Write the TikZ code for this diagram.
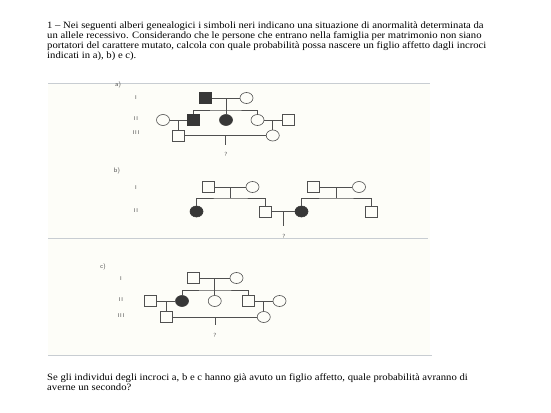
\documentclass[tikz,border=0pt]{standalone}
\usepackage{fontspec}
\setmainfont{Liberation Serif}
\newfontfamily\parafont[FakeStretch=1.1]{Liberation Serif}
\usetikzlibrary{shapes.geometric,calc}
\definecolor{ink}{RGB}{80,80,80}
\definecolor{fillk}{RGB}{55,55,55}
\definecolor{scanbg}{RGB}{253,253,248}
\definecolor{rule}{RGB}{200,205,210}
\tikzset{
  sq/.style={draw=ink,line width=0.6pt,rectangle,minimum width=12pt,minimum height=11pt,inner sep=0pt},
  ci/.style={draw=ink,line width=0.6pt,ellipse,minimum width=13pt,minimum height=11pt,inner sep=0pt},
  aff/.style={fill=fillk,draw=fillk},
  ln/.style={draw=ink,line width=0.6pt},
  gen/.style={font=\sffamily\fontsize{5.5}{5.5}\selectfont,text=ink,inner sep=0pt},
  lab/.style={font=\sffamily\fontsize{6.5}{6.5}\selectfont,text=ink,inner sep=0pt},
  qm/.style={font=\sffamily\fontsize{6}{6}\selectfont,text=ink,inner sep=0pt},
  para/.style={font=\parafont\fontsize{9.7}{8.7}\selectfont,align=left,anchor=north west,inner sep=0pt},
  scanrule/.style={draw=rule,line width=1pt}
}
\begin{document}
\begin{tikzpicture}[x=1pt,y=-1pt]
\useasboundingbox[fill=white] (0,0) rectangle (551,412);
\fill[scanbg] (48,83) rectangle (430,355);
\draw[scanrule] (48,83) -- (430,83);
\draw[scanrule] (48,238) -- (428,238);
\draw[scanrule] (48,355) -- (432,355);

\node[para] (t1) at (47,21.5) {1 – Nei seguenti alberi genealogici i simboli neri indicano una situazione di anormalità determinata da\\un allele recessivo. Considerando che le persone che entrano nella famiglia per matrimonio non siano\\portatori del carattere mutato, calcola con quale probabilità possa nascere un figlio affetto dagli incroci\\indicati in a), b) e c).};
\node[para] (t2) at (47,373.5) {Se gli individui degli incroci a, b e c hanno già avuto un figlio affetto, quale probabilità avranno di\\averne un secondo?};

% ---------- a ----------
\node[lab] (la) at (118,85) {a)};
\node[gen] (ga1) at (136,98) {I};
\node[gen] (ga2) at (136,119) {I\,I};
\node[gen] (ga3) at (136,133) {I\,I\,I};
\node[sq,aff] (aI1) at (205.5,98) {};
\node[ci] (aI2) at (246.5,98) {};
\node[ci] (aII1) at (163,120) {};
\node[sq,aff] (aII2) at (193,120) {};
\node[ci,aff] (aII3) at (226,120) {};
\node[ci] (aII4) at (257.5,120) {};
\node[sq] (aII5) at (288,120) {};
\node[sq] (aIII1) at (178,135.5) {};
\node[ci] (aIII2) at (272.75,135.5) {};
\coordinate (aIm) at ($(aI1)!0.5!(aI2)$);
\coordinate (aIs) at (226,110);
\draw[ln] (aI1) -- (aI2);
\draw[ln] (aIm) -- (aIs);
\draw[ln] (aII2.north) |- (aIs) -| (aII4.north);
\draw[ln] (aIs) -- (aII3.north);
\draw[ln] (aII1) -- (aII2);
\coordinate (aIIm1) at ($(aII1)!0.5!(aII2)$);
\draw[ln] (aIIm1) -- (aIII1.north);
\draw[ln] (aII4) -- (aII5);
\coordinate (aIIm2) at ($(aII4)!0.5!(aII5)$);
\draw[ln] (aIIm2) -- (aIII2.north);
\draw[ln] (aIII1) -- (aIII2);
\coordinate (aIIIm) at ($(aIII1)!0.5!(aIII2)$);
\coordinate (aIIId) at ($(aIIIm)+(0,9)$);
\draw[ln] (aIIIm) -- (aIIId);
\node[qm] (aq) at (226,154) {?};

% ---------- b ----------
\node[lab] (lb) at (117,171) {b)};
\node[gen] (gb1) at (136,188) {I};
\node[gen] (gb2) at (136,211) {I\,I};
\node[sq] (bI1) at (208.5,187) {};
\node[ci] (bI2) at (252.5,187) {};
\node[sq] (bI3) at (313.5,187) {};
\node[ci] (bI4) at (359,187) {};
\node[ci,aff] (bII1) at (196.5,211.5) {};
\node[sq] (bII2) at (265,211.5) {};
\node[ci,aff] (bII3) at (301.5,211.5) {};
\node[sq] (bII4) at (371,211.5) {};
\draw[ln] (bI1) -- (bI2);
\coordinate (bIm1) at ($(bI1)!0.5!(bI2)$);
\coordinate (bIs1) at ($(bIm1)+(0,11)$);
\draw[ln] (bIm1) -- (bIs1);
\draw[ln] (bII1.north) |- (bIs1) -| (bII2.north);
\draw[ln] (bI3) -- (bI4);
\coordinate (bIm2) at ($(bI3)!0.5!(bI4)$);
\coordinate (bIs2) at ($(bIm2)+(0,11)$);
\draw[ln] (bIm2) -- (bIs2);
\draw[ln] (bII3.north) |- (bIs2) -| (bII4.north);
\draw[ln] (bII2) -- (bII3);
\coordinate (bIIm) at ($(bII2)!0.5!(bII3)$);
\coordinate (bIId) at ($(bIIm)+(0,14)$);
\draw[ln] (bIIm) -- (bIId);
\node[qm] (bq) at (284,236) {?};

% ---------- c ----------
\node[lab] (lc) at (103,267) {c)};
\node[gen] (gc1) at (121,279) {I};
\node[gen] (gc2) at (121,300) {I\,I};
\node[gen] (gc3) at (121,316) {I\,I\,I};
\node[sq] (cI1) at (193,278) {};
\node[ci] (cI2) at (236.5,278) {};
\node[sq] (cII1) at (150,301) {};
\node[ci,aff] (cII2) at (182,301) {};
\node[ci] (cII3) at (214.75,301) {};
\node[sq] (cII4) at (248,301) {};
\node[ci] (cII5) at (279.5,301) {};
\node[sq] (cIII1) at (166,317) {};
\node[ci] (cIII2) at (263.75,317) {};
\draw[ln] (cI1) -- (cI2);
\coordinate (cIm) at ($(cI1)!0.5!(cI2)$);
\coordinate (cIs) at ($(cIm)+(0,12)$);
\draw[ln] (cIm) -- (cIs);
\draw[ln] (cII2.north) |- (cIs) -| (cII4.north);
\draw[ln] (cIs) -- (cII3.north);
\draw[ln] (cII1) -- (cII2);
\coordinate (cIIm1) at ($(cII1)!0.5!(cII2)$);
\draw[ln] (cIIm1) -- (cIII1.north);
\draw[ln] (cII4) -- (cII5);
\coordinate (cIIm2) at ($(cII4)!0.5!(cII5)$);
\draw[ln] (cIIm2) -- (cIII2.north);
\draw[ln] (cIII1) -- (cIII2);
\coordinate (cIIIm) at ($(cIII1)!0.5!(cIII2)$);
\coordinate (cIIId) at ($(cIIIm)+(0,8)$);
\draw[ln] (cIIIm) -- (cIIId);
\node[qm] (cq) at (215,335) {?};
\end{tikzpicture}
\end{document}
